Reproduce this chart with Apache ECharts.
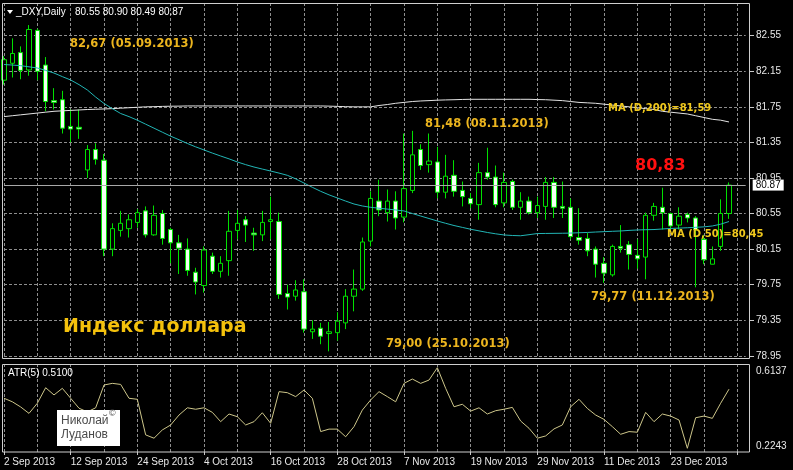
<!DOCTYPE html>
<html>
<head>
<meta charset="utf-8">
<script src="https://cdn.jsdelivr.net/npm/echarts@6/dist/echarts.min.js"></script>
<style>html,body{margin:0;padding:0;background:#000;}#c{width:793px;height:470px;}</style>
</head>
<body>
<div id="c"></div>
<script>
// ---- data ----
const xLabels = ['2 Sep 2013','12 Sep 2013','24 Sep 2013','4 Oct 2013','16 Oct 2013','28 Oct 2013','7 Nov 2013','19 Nov 2013','29 Nov 2013','11 Dec 2013','23 Dec 2013'];
const opens = [82.05,82.24,82.36,82.165,82.61,82.22,81.82,81.83,81.53,81.52,81.04,81.27,81.15,80.15,80.36,80.38,80.45,80.58,80.31,80.55,
80.37,80.22,80.15,79.89,79.74,80.07,79.90,80.02,80.36,80.48,80.33,80.31,80.46,80.46,79.65,79.62,79.67,79.22,79.26,79.20,
79.21,79.32,79.62,79.70,80.24,80.69,80.56,80.69,80.51,80.81,81.27,81.10,81.13,80.79,80.98,80.81,80.72,80.65,81.01,80.96,
80.67,80.91,80.62,80.69,80.56,80.63,80.90,80.63,80.62,80.28,80.27,80.15,79.99,79.86,80.18,80.20,80.08,80.06,80.53,80.62,
80.55,80.42,80.54,80.50,80.26,79.98,80.18,80.55];
const highs = [82.32,82.52,82.43,82.67,82.63,82.31,81.96,81.93,81.72,81.72,81.32,81.34,81.22,80.44,80.58,80.54,80.60,80.63,80.64,80.59,
80.39,80.31,80.27,79.94,80.18,80.11,80.07,80.58,80.59,80.52,80.39,80.58,80.74,80.56,79.75,79.80,79.81,79.35,79.32,79.33,
79.44,79.70,79.92,80.28,80.80,80.93,80.82,80.80,81.45,81.48,81.33,81.45,81.30,81.21,81.15,80.91,80.78,81.12,81.29,81.09,
81.01,80.93,80.79,80.74,80.74,80.96,80.96,80.91,80.72,80.61,80.33,80.18,80.06,80.20,80.42,80.24,80.26,80.56,80.67,80.84,
80.56,80.62,80.56,80.52,80.31,80.18,80.71,80.90];
const lows = [82.00,82.08,82.06,82.10,82.05,81.70,81.72,81.45,81.35,81.39,80.95,81.10,80.07,80.07,80.29,80.28,80.39,80.28,80.30,80.20,
79.99,79.87,79.85,79.64,79.66,79.87,79.83,79.85,80.26,80.23,80.13,80.24,80.26,79.59,79.47,79.57,79.21,79.14,79.08,79.00,
79.12,79.25,79.45,79.68,80.18,80.52,80.46,80.37,80.45,80.78,81.04,81.01,80.72,80.72,80.74,80.63,80.61,80.48,80.93,80.62,
80.62,80.59,80.48,80.54,80.50,80.48,80.50,80.50,80.26,80.20,80.07,79.83,79.77,79.84,80.11,79.92,79.93,79.81,80.47,80.37,
80.37,80.37,80.45,79.72,79.98,79.98,80.13,80.49];
const closes = [82.28,82.35,82.16,82.62,82.15,81.81,81.80,81.51,81.50,81.50,81.27,81.16,80.15,80.38,80.44,80.48,80.56,80.31,80.53,80.27,
80.22,80.16,79.91,79.78,80.14,79.90,79.99,80.35,80.44,80.42,80.31,80.45,80.48,79.64,79.61,79.69,79.25,79.25,79.17,79.22,
79.34,79.62,79.70,80.23,80.72,80.59,80.69,80.50,80.83,81.21,81.09,81.14,80.79,80.97,80.80,80.74,80.66,81.01,80.96,80.65,
80.90,80.62,80.69,80.56,80.64,80.90,80.62,80.61,80.29,80.25,80.13,79.98,79.88,80.18,80.16,80.09,80.04,80.53,80.63,80.56,
80.41,80.52,80.50,80.37,80.03,80.04,80.55,80.87];
const ma50 = [82.226,82.22,82.213,82.20,82.187,82.16,82.13,82.09,82.052,82.00,81.94,81.86,81.788,81.73,81.675,81.64,81.60,81.555,81.51,81.465,
81.42,81.38,81.338,81.30,81.265,81.23,81.197,81.165,81.13,81.10,81.073,81.05,81.028,81.005,80.98,80.94,80.893,80.845,80.80,80.76,
80.725,80.69,80.657,80.635,80.62,80.61,80.60,80.59,80.579,80.55,80.522,80.494,80.466,80.44,80.415,80.394,80.373,80.355,80.337,80.322,
80.309,80.303,80.30,80.312,80.325,80.326,80.327,80.328,80.33,80.334,80.337,80.342,80.346,80.35,80.354,80.36,80.365,80.368,80.37,80.376,
80.382,80.386,80.39,80.395,80.40,80.41,80.43,80.46];
const ma200 = [81.64,81.65,81.66,81.67,81.68,81.69,81.70,81.705,81.71,81.715,81.72,81.723,81.726,81.73,81.735,81.74,81.745,81.75,81.752,81.755,
81.757,81.758,81.76,81.76,81.76,81.76,81.76,81.76,81.76,81.76,81.76,81.76,81.76,81.76,81.76,81.76,81.76,81.76,81.76,81.758,
81.755,81.752,81.75,81.75,81.75,81.765,81.776,81.79,81.80,81.81,81.816,81.82,81.825,81.828,81.83,81.833,81.835,81.835,81.835,81.835,
81.835,81.835,81.835,81.835,81.832,81.83,81.825,81.82,81.81,81.80,81.795,81.79,81.78,81.77,81.76,81.75,81.74,81.73,81.72,81.70,
81.69,81.68,81.67,81.65,81.63,81.61,81.60,81.58];
const atr5 = [0.466,0.449,0.424,0.393,0.442,0.517,0.482,0.514,0.466,0.418,0.40,0.42,0.530,0.538,0.533,0.466,0.461,0.289,0.273,0.313,
0.337,0.385,0.420,0.413,0.420,0.398,0.353,0.390,0.377,0.337,0.353,0.396,0.345,0.498,0.493,0.474,0.506,0.466,0.305,0.317,
0.317,0.280,0.329,0.409,0.458,0.498,0.474,0.449,0.538,0.559,0.538,0.554,0.6137,0.514,0.425,0.437,0.404,0.420,0.390,0.406,
0.413,0.422,0.356,0.321,0.273,0.284,0.318,0.337,0.425,0.461,0.417,0.385,0.364,0.329,0.292,0.305,0.302,0.398,0.353,0.390,
0.380,0.361,0.2243,0.372,0.380,0.369,0.442,0.510];
const priceTicks = [78.95,79.35,79.75,80.15,80.55,80.95,81.35,81.75,82.15,82.55];
const atrTicks = [0.2243,0.6137];
const bidPrice = 80.87;
const headerValues = '80.55 80.90 80.49 80.87';

// ---- build ----
const nCats = 90;
const cats = Array.from({length: nCats}, (_, i) => String(i));
const candleData = opens.map((o, i) => [o, closes[i], lows[i], highs[i]]);

const gridLine = {show: true, lineStyle: {color: '#8e8e8e', type: [3, 2], width: 1}};
const goldFont = 'bold 11.5px "DejaVu Sans"';
const gold = '#ecb51e';
const maGold = '#f0c81c';

function txt(text, x, y, font, fill, extra) {
  return Object.assign({type: 'text', x: x, y: y, silent: true, z: 100,
    style: {text: text, font: font, fill: fill, verticalAlign: 'middle', align: 'left'}}, extra || {});
}

const chart = echarts.init(document.getElementById('c'), null, {renderer: 'canvas'});
chart.setOption({
  backgroundColor: '#000',
  animation: false,
  grid: [
    {left: 4, top: 3, width: 741.667, height: 355},
    {left: 4, top: 364, width: 741.667, height: 88}
  ],
  xAxis: [
    {type: 'category', gridIndex: 0, data: cats, boundaryGap: false,
     axisLine: {show: false}, axisTick: {show: false}, axisLabel: {show: false},
     splitLine: Object.assign({interval: 3}, gridLine)},
    {type: 'category', gridIndex: 1, data: cats, boundaryGap: false,
     axisLine: {show: false},
     axisTick: {show: true, interval: 7, length: 3, lineStyle: {color: '#c8c8c8'}},
     axisLabel: {show: true, interval: 7, align: 'left', color: '#e8e8e8', fontSize: 10,
       fontFamily: 'Liberation Sans', margin: 5,
       formatter: (v, i) => (i % 8 === 0 && xLabels[i / 8]) ? xLabels[i / 8] : ''},
     splitLine: Object.assign({interval: 3}, gridLine)}
  ],
  yAxis: [
    {type: 'value', gridIndex: 0, position: 'right', offset: 4.333, min: 78.925, max: 82.918,
     axisLine: {show: false},
     axisTick: {show: true, length: 4, customValues: priceTicks, lineStyle: {color: '#c8c8c8'}},
     axisLabel: {customValues: priceTicks, formatter: v => v.toFixed(2), color: '#e8e8e8',
       fontSize: 10, fontFamily: 'Liberation Sans', margin: 6},
     splitLine: gridLine},
    {type: 'value', gridIndex: 1, position: 'right', offset: 4.333, min: 0.2064, max: 0.6316,
     axisLine: {show: false},
     axisTick: {show: false, customValues: atrTicks},
     axisLabel: {customValues: atrTicks, color: '#e8e8e8',
       fontSize: 10, fontFamily: 'Liberation Sans', margin: 6,
       formatter: v => v > 0.5 ? '{t|' + v.toFixed(4) + '}' : '{b|' + v.toFixed(4) + '}',
       rich: {t: {padding: [8, 0, 0, 0], fontSize: 10, fontFamily: 'Liberation Sans', color: '#e8e8e8'},
              b: {padding: [0, 0, 4, 0], fontSize: 10, fontFamily: 'Liberation Sans', color: '#e8e8e8'}}},
     splitLine: {show: false}}
  ],
  series: [
    {type: 'candlestick', xAxisIndex: 0, yAxisIndex: 0, data: candleData, barWidth: 5,
     itemStyle: {color: '#000000', color0: '#f2fff2', borderColor: '#00e000', borderColor0: '#00e000', borderWidth: 1},
     markLine: {symbol: 'none', silent: true, animation: false,
       data: [{yAxis: bidPrice}],
       lineStyle: {color: '#a8a8a8', type: 'solid', width: 1},
       label: {position: 'end', distance: 7, formatter: bidPrice.toFixed(2), backgroundColor: '#ffffff',
         color: '#000', fontSize: 10, fontFamily: 'Liberation Sans', padding: [1, 3, 0, 3]}}},
    {type: 'line', xAxisIndex: 0, yAxisIndex: 0, data: ma200, symbol: 'none', silent: true,
     lineStyle: {color: '#e4e4e4', width: 1}},
    {type: 'line', xAxisIndex: 0, yAxisIndex: 0, data: ma50, symbol: 'none', silent: true,
     lineStyle: {color: '#22b5b5', width: 1}},
    {type: 'line', xAxisIndex: 1, yAxisIndex: 1, data: atr5, symbol: 'none', silent: true,
     lineStyle: {color: '#cdc68a', width: 1}}
  ],
  graphic: [
    {type: 'rect', silent: true, z: 90, shape: {x: 2.5, y: 3.5, width: 747, height: 355},
     style: {fill: null, stroke: '#cfcfcf', lineWidth: 1}},
    {type: 'rect', silent: true, z: 90, shape: {x: 2.5, y: 364.5, width: 747, height: 87.5},
     style: {fill: null, stroke: '#cfcfcf', lineWidth: 1}},
    {type: 'polygon', silent: true, z: 100, shape: {points: [[7, 10], [13, 10], [10, 14]]}, style: {fill: '#ffffff'}},
    txt('_DXY,Daily', 16, 12.5, '10px "Liberation Sans"', '#ffffff'),
    txt(headerValues, 75, 12.5, '10px "Liberation Sans"', '#ffffff'),
    txt('ATR(5) 0.5100', 8, 373, '10px "Liberation Sans"', '#ffffff'),
    txt('82,67 (05.09.2013)', 70, 44, goldFont, gold),
    txt('81,48 (08.11.2013)', 425, 124, goldFont, gold),
    txt('79,00 (25.10.2013)', 386, 344, goldFont, gold),
    txt('79,77 (11.12.2013)', 591, 297, goldFont, gold),
    txt('MA (D,200)=81,59', 608, 108, 'bold 10px "DejaVu Sans"', maGold),
    txt('MA (D,50)=80,45', 667, 234, 'bold 10px "DejaVu Sans"', maGold),
    txt('80,83', 635, 166, 'bold 16px "DejaVu Sans"', '#ff1010'),
    txt('Индекс доллара', 63, 327, 'bold 19px "DejaVu Sans"', '#f4c10c'),
    {type: 'rect', silent: true, z: 100, shape: {x: 57, y: 410, width: 63, height: 36}, style: {fill: '#ffffff'}},
    txt('Николай', 61, 421, '12px "Liberation Sans"', '#4a4a4a', {z: 101}),
    txt('©', 109, 414, '9px "Liberation Sans"', '#4a4a4a', {z: 101}),
    txt('Луданов', 61, 435, '12px "Liberation Sans"', '#4a4a4a', {z: 101})
  ]
});
</script>
</body>
</html>
